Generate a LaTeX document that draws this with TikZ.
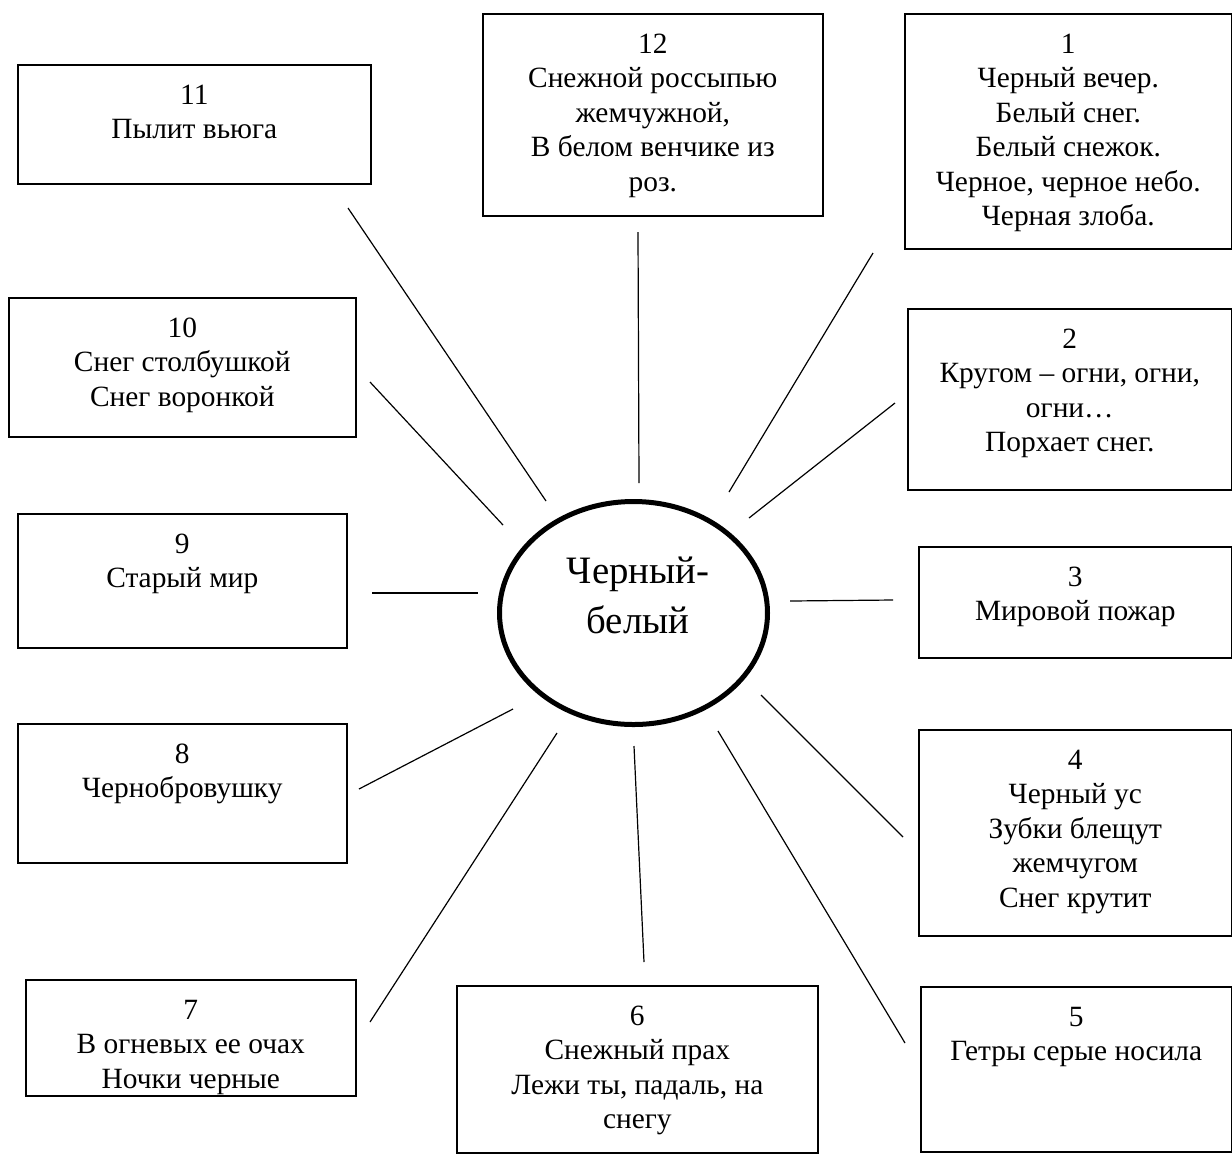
\documentclass[tikz,border=0pt]{standalone}
\usepackage{fontspec}
\setmainfont{Liberation Serif}
\usetikzlibrary{shapes.geometric}

% box text: width, height (in px of the sheet), lines
\newcommand{\cardtext}[3]{\parbox[c][\dimexpr#2pt/2\relax][t]{\dimexpr#1pt/2\relax}{\fontsize{14.7pt}{17.25pt}\selectfont\centering\rule{0pt}{19.8pt}#3}}

\tikzset{
  card/.style={draw, line width=0.8pt, inner sep=0pt, anchor=north west},
  hub/.style={ellipse, draw, line width=2.5pt, inner sep=0pt, minimum width=134pt, minimum height=111.5pt},
  hubtext/.style={align=center, font=\fontsize{19.4pt}{25pt}\selectfont},
  spoke/.style={line width=0.6pt}
}

\begin{document}
\begin{tikzpicture}[x=0.5pt, y=-0.5pt]
    \useasboundingbox (0,0) rectangle (1232,1153);

    \node[hub] (hub) at (633.5,613) {};
    \node[hubtext] (hubtext) at (638,595) {Черный-\\белый};

    \node[card] (b11) at (17,64) {\cardtext{353}{119}{11\\Пылит вьюга}};
    \node[card] (b12) at (482,13) {\cardtext{340}{202}{12\\Снежной россыпью\\жемчужной,\\В белом венчике из\\роз.}};
    \node[card] (b1) at (904,13) {\cardtext{327}{235}{1\\Черный вечер.\\Белый снег.\\Белый снежок.\\Черное, черное небо.\\Черная злоба.}};
    \node[card] (b10) at (8,297) {\cardtext{347}{139}{10\\Снег столбушкой\\Снег воронкой}};
    \node[card] (b2) at (907,308) {\cardtext{324}{181}{2\\Кругом – огни, огни,\\огни…\\Порхает снег.}};
    \node[card] (b9) at (17,513) {\cardtext{329}{134}{9\\Старый мир}};
    \node[card] (b3) at (918,546) {\cardtext{313}{111}{3\\Мировой пожар}};
    \node[card] (b8) at (17,723) {\cardtext{329}{139}{8\\Чернобровушку}};
    \node[card] (b4) at (918,729) {\cardtext{313}{206}{4\\Черный ус\\Зубки блещут\\жемчугом\\Снег крутит}};
    \node[card] (b7) at (25,979) {\cardtext{330}{116}{7\\В огневых ее очах\\Ночки черные}};
    \node[card] (b6) at (456,985) {\cardtext{361}{167}{6\\Снежный прах\\Лежи ты, падаль, на\\снегу}};
    \node[card] (b5) at (920,986) {\cardtext{311}{165}{5\\Гетры серые носила}};

    % rays: outer end (o) and inner end (i)
    \coordinate (o11) at (348,208);  \coordinate (i11) at (546,501);
    \coordinate (o12) at (638,232);  \coordinate (i12) at (639,483);
    \coordinate (o1) at (873,253);   \coordinate (i1) at (729,492);
    \coordinate (o10) at (370,382);  \coordinate (i10) at (503,525);
    \coordinate (o2) at (895,403);   \coordinate (i2) at (749,518);
    \coordinate (o9) at (372,593);   \coordinate (i9) at (478,593);
    \coordinate (o3) at (893,600);   \coordinate (i3) at (790,601);
    \coordinate (o8) at (359,789);   \coordinate (i8) at (513,709);
    \coordinate (o4) at (903,837);   \coordinate (i4) at (761,695);
    \coordinate (o7) at (370,1022);  \coordinate (i7) at (557,733);
    \coordinate (o6) at (644,962);   \coordinate (i6) at (634,746);
    \coordinate (o5) at (905,1043);  \coordinate (i5) at (718,731);

    \foreach \k in {1,...,12}
        \draw[spoke] (o\k) -- (i\k);
\end{tikzpicture}
\end{document}
